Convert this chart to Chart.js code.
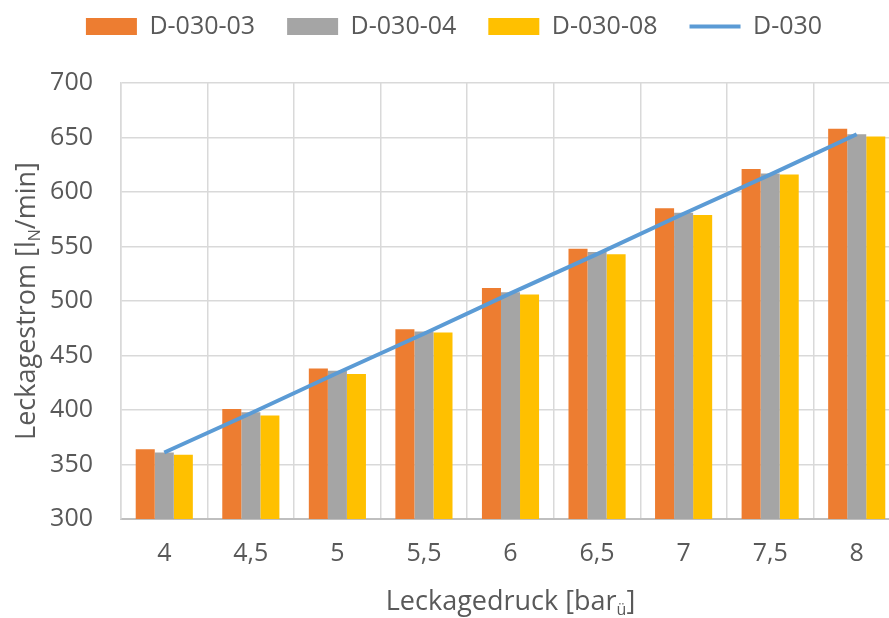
<!DOCTYPE html>
<html>
<head>
<meta charset="utf-8">
<script src="https://cdn.jsdelivr.net/npm/chart.js@4"></script>
<style>
    html, body { margin: 0; padding: 0; background: #fff; overflow: hidden; }
    #wrap { width: 900px; height: 618px; }
</style>
</head>
<body>
<div id="wrap"><canvas id="chart"></canvas></div>
<script>
// Leckagedruck categories
const labels = ['4', '4,5', '5', '5,5', '6', '6,5', '7', '7,5', '8'];

// Leckagestrom per sample
const d03 = [364, 401, 438, 474, 512, 548, 585, 621, 658];
const d04 = [361, 398, 436, 472, 508, 545, 581, 617, 653];
const d08 = [359, 395, 433, 471, 506, 543, 579, 616, 651];
const d030 = [361, 397, 434, 470, 507, 543, 580, 616, 653];

const yTicks = { min: 300, max: 700, step: 50 };

const textColor = '#595959';
const fontFamily = '"Open Sans", sans-serif';

// axis titles with subscripts (Chart.js titles can't do these)
function drawParts(ctx, parts, x, y) {
    const widths = parts.map(p => {
        ctx.font = `${p.sub ? 16 : 27}px ${fontFamily}`;
        return ctx.measureText(p.text).width;
    });
    let cx = x - widths.reduce((a, b) => a + b, 0) / 2;
    parts.forEach((p, i) => {
        ctx.font = `${p.sub ? 16 : 27}px ${fontFamily}`;
        ctx.fillText(p.text, cx, y + (p.sub ? 8 : 0));
        cx += widths[i];
    });
}

const axisTitles = {
    id: 'axisTitles',
    afterDraw(chart) {
        const { ctx, chartArea } = chart;
        ctx.save();
        ctx.fillStyle = textColor;
        ctx.textBaseline = 'middle';
        ctx.textAlign = 'left';
        drawParts(ctx, [{ text: 'Leckagedruck [bar' }, { text: 'ü', sub: true }, { text: ']' }],
            (chartArea.left + chartArea.right) / 2, 602);
        ctx.translate(27, (chartArea.top + chartArea.bottom) / 2);
        ctx.rotate(-Math.PI / 2);
        drawParts(ctx, [{ text: 'Leckagestrom [l' }, { text: 'N', sub: true }, { text: '/min]' }], 0, 0);
        ctx.restore();
    }
};

// keep a fixed gap between legend row and plot area
const legendHeight = {
    id: 'legendHeight',
    beforeLayout(chart) {
        const lg = chart.legend;
        if (lg && !lg._fixed) {
            const fit = lg.fit.bind(lg);
            lg.fit = function () { fit(); this.height = 101; };
            lg._fixed = true;
        }
    }
};

new Chart(document.getElementById('chart'), {
    type: 'bar',
    data: {
        labels,
        datasets: [
            { label: 'D-030-03', data: d03, backgroundColor: '#ED7D31', order: 1 },
            { label: 'D-030-04', data: d04, backgroundColor: '#A5A5A5', order: 1 },
            { label: 'D-030-08', data: d08, backgroundColor: '#FFC000', order: 1 },
            { label: 'D-030', data: d030, type: 'line', borderColor: '#5B9BD5', backgroundColor: '#5B9BD5',
              borderWidth: 4, pointRadius: 0, tension: 0, order: 0 },
        ]
    },
    options: {
        responsive: true, maintainAspectRatio: false, animation: false,
        categoryPercentage: 0.66, barPercentage: 1,
        layout: { padding: { top: -18, left: 8, right: 0, bottom: 0 } },
        plugins: {
            tooltip: { enabled: false },
            legend: {
                position: 'top',
                labels: {
                    color: textColor,
                    font: { family: fontFamily, size: 25 },
                    usePointStyle: true, pointStyleWidth: 51, boxHeight: 17,
                    padding: 32,
                    sort: (a, b) => a.datasetIndex - b.datasetIndex,
                    generateLabels: (chart) => Chart.defaults.plugins.legend.labels.generateLabels(chart)
                        .map(l => ({ ...l, pointStyle: chart.data.datasets[l.datasetIndex].type === 'line' ? 'line' : 'rect' }))
                }
            }
        },
        scales: {
            x: {
                grid: { color: '#D9D9D9', lineWidth: 1.5, drawTicks: false, offset: true },
                border: { color: '#BFBFBF', width: 2 },
                ticks: { color: textColor, font: { family: fontFamily, size: 25 }, padding: 20 },
                afterFit: (s) => { s.height = 99; }
            },
            y: {
                min: yTicks.min, max: yTicks.max,
                grid: { color: '#D9D9D9', lineWidth: 1.5, drawTicks: false },
                border: { color: '#D9D9D9', width: 1.5 },
                ticks: { stepSize: yTicks.step, color: textColor, font: { family: fontFamily, size: 25 }, padding: 28 },
                afterFit: (s) => { s.width = 113; }
            }
        }
    },
    plugins: [axisTitles, legendHeight]
});
</script>
</body>
</html>
